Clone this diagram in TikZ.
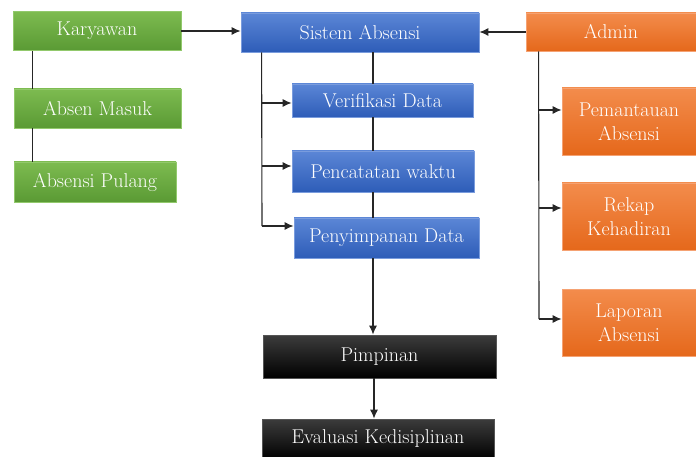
\documentclass[tikz,border=0pt]{standalone}
\usetikzlibrary{arrows.meta,calc}
\definecolor{gT}{HTML}{7DBB50}\definecolor{gB}{HTML}{5A9A34}\definecolor{gL}{HTML}{92C96C}
\definecolor{bT}{HTML}{5B86D6}\definecolor{bB}{HTML}{2E5DB8}\definecolor{bL}{HTML}{7A9CDD}
\definecolor{oT}{HTML}{F38C4C}\definecolor{oB}{HTML}{E5681B}\definecolor{oL}{HTML}{F5A273}
\definecolor{kT}{HTML}{3C3C3C}\definecolor{kB}{HTML}{000000}\definecolor{kL}{HTML}{555555}
\definecolor{ln}{HTML}{262626}
\tikzset{
  box/.style={rectangle, inner sep=0pt, align=center, text=white,
    font=\fontsize{20}{24}\selectfont, line width=0.8pt},
  gbox/.style={box, top color=gT, bottom color=gB, draw=gL},
  bbox/.style={box, top color=bT, bottom color=bB, draw=bL},
  obox/.style={box, top color=oT, bottom color=oB, draw=oL},
  kbox/.style={box, top color=kT, bottom color=kB, draw=kL},
  conn/.style={draw=ln, line width=1.1pt},
  arr/.style={conn, -{Latex[length=9pt,width=8pt]}}
}
\begin{document}
\begin{tikzpicture}[x=1pt,y=-1pt]
\useasboundingbox (0,0) rectangle (696,457);
% green
\node[gbox, minimum width=168pt, minimum height=39pt] (kar) at (97,31) {Karyawan};
\node[gbox, minimum width=167pt, minimum height=39pt] (masuk) at (97.5,108.5) {Absen Masuk};
\node[gbox, minimum width=162pt, minimum height=40pt] (pulang) at (95,182) {Absensi Pulang};
% blue
\node[bbox, minimum width=238pt, minimum height=39pt] (sis) at (360,32.5) {Sistem Absensi};
\node[bbox, minimum width=181pt, minimum height=33pt] (ver) at (382.5,100.5) {Verifikasi Data};
\node[bbox, minimum width=182pt, minimum height=41pt] (pen) at (383,171.5) {Pencatatan waktu};
\node[bbox, minimum width=185pt, minimum height=40pt] (sim) at (386.5,238) {Penyimpanan Data};
% orange
\node[obox, minimum width=170pt, minimum height=38pt] (adm) at (611,32) {Admin};
\node[obox, minimum width=134pt, minimum height=67pt] (pem) at (629,121.5) {Pemantauan\\Absensi};
\node[obox, minimum width=134pt, minimum height=67pt] (rek) at (629,216.5) {Rekap\\Kehadiran};
\node[obox, minimum width=134pt, minimum height=67pt] (lap) at (629,322.5) {Laporan\\Absensi};
% black
\node[kbox, minimum width=233pt, minimum height=43pt] (pim) at (379.5,356.5) {Pimpinan};
\node[kbox, minimum width=232pt, minimum height=40pt] (eva) at (378,439) {Evaluasi Kedisiplinan};
% left connectors
\draw[arr] (kar.east) -- (kar.east -| sis.west);
\draw[conn] ([xshift=20pt]kar.south west) -- ([xshift=19pt]masuk.north west);
\draw[conn] ([xshift=19pt]masuk.south west) -- ([xshift=19pt]pulang.north west);
% system spine
\coordinate (sc) at ([xshift=13pt]sis.south);
\draw[conn] (sc) -- (sc |- ver.north);
\draw[conn] (sc |- ver.south) -- (sc |- pen.north);
\draw[conn] (sc |- pen.south) -- (sc |- sim.north);
\draw[arr] (sc |- sim.south) -- (sc |- pim.north);
\draw[arr] ([xshift=-5.5pt]pim.south) -- ([xshift=-4pt]eva.north);
% system branch
\coordinate (sb) at ([xshift=21pt]sis.south west);
\coordinate (v1) at (262,103);
\coordinate (v2) at (262,166);
\coordinate (v3) at (262,226);
\draw[conn] (sb) -- (v3);
\draw[arr] (v1) -- (v1 -| ver.west);
\draw[arr] (v2) -- (v2 -| pen.west);
\draw[arr] (v3) -- (v3 -| sim.west);
% admin
\draw[arr] (adm.west) -- (adm.west -| sis.east);
\coordinate (ab) at ([xshift=13pt]adm.south west);
\coordinate (a1) at (539,110);
\coordinate (a2) at (539,208);
\coordinate (a3) at (539,319);
\draw[conn] (ab) -- (a3);
\draw[arr] (a1) -- (a1 -| pem.west);
\draw[arr] (a2) -- (a2 -| rek.west);
\draw[arr] (a3) -- (a3 -| lap.west);
\end{tikzpicture}
\end{document}
